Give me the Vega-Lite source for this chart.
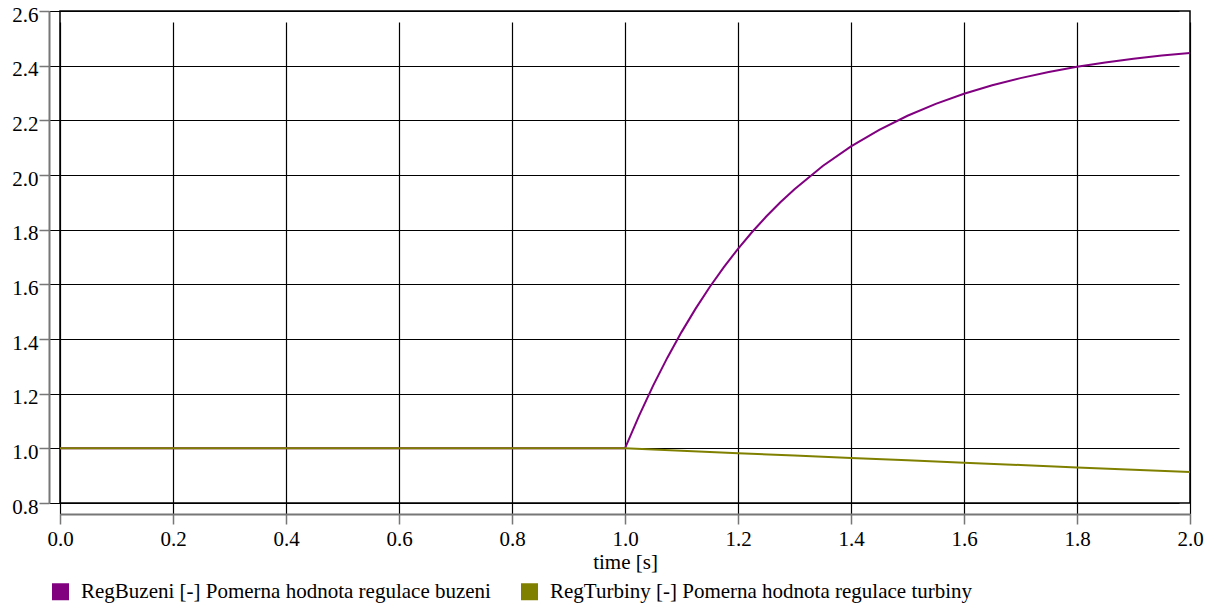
{
  "$schema": "https://vega.github.io/schema/vega-lite/v6.json",
  "width": 1130,
  "height": 492,
  "autosize": {"type": "none"},
  "padding": {"left": 60, "top": 11, "right": 27, "bottom": 105},
  "background": "white",
  "config": {
    "font": "Liberation Serif",
    "view": {"stroke": "#000", "strokeWidth": 1.5},
    "axis": {
      "labelFont": "Liberation Serif",
      "titleFont": "Liberation Serif",
      "labelFontSize": 21,
      "titleFontSize": 21,
      "titleFontWeight": "normal",
      "labelColor": "#000",
      "titleColor": "#000",
      "gridColor": "#000",
      "gridOpacity": 1,
      "gridWidth": 1.2,
      "domainColor": "#777",
      "domainWidth": 2,
      "tickColor": "#777",
      "tickWidth": 1.5,
      "tickSize": 10,
      "offset": 11,
      "labelFlush": false
    },
    "legend": {
      "labelFont": "Liberation Serif",
      "labelFontSize": 21,
      "labelColor": "#000"
    }
  },
  "data": {
    "values": [
      {"t": 0.0, "v": 1.0, "s": "RegBuzeni [-] Pomerna hodnota regulace buzeni"},
      {"t": 0.5, "v": 1.0, "s": "RegBuzeni [-] Pomerna hodnota regulace buzeni"},
      {"t": 1.0, "v": 1.0, "s": "RegBuzeni [-] Pomerna hodnota regulace buzeni"},
      {"t": 1.025, "v": 1.1199, "s": "RegBuzeni [-] Pomerna hodnota regulace buzeni"},
      {"t": 1.05, "v": 1.2303, "s": "RegBuzeni [-] Pomerna hodnota regulace buzeni"},
      {"t": 1.075, "v": 1.3318, "s": "RegBuzeni [-] Pomerna hodnota regulace buzeni"},
      {"t": 1.1, "v": 1.4252, "s": "RegBuzeni [-] Pomerna hodnota regulace buzeni"},
      {"t": 1.125, "v": 1.5111, "s": "RegBuzeni [-] Pomerna hodnota regulace buzeni"},
      {"t": 1.15, "v": 1.5902, "s": "RegBuzeni [-] Pomerna hodnota regulace buzeni"},
      {"t": 1.175, "v": 1.6629, "s": "RegBuzeni [-] Pomerna hodnota regulace buzeni"},
      {"t": 1.2, "v": 1.7299, "s": "RegBuzeni [-] Pomerna hodnota regulace buzeni"},
      {"t": 1.225, "v": 1.7914, "s": "RegBuzeni [-] Pomerna hodnota regulace buzeni"},
      {"t": 1.25, "v": 1.8481, "s": "RegBuzeni [-] Pomerna hodnota regulace buzeni"},
      {"t": 1.275, "v": 1.9002, "s": "RegBuzeni [-] Pomerna hodnota regulace buzeni"},
      {"t": 1.3, "v": 1.9482, "s": "RegBuzeni [-] Pomerna hodnota regulace buzeni"},
      {"t": 1.35, "v": 2.0329, "s": "RegBuzeni [-] Pomerna hodnota regulace buzeni"},
      {"t": 1.4, "v": 2.1046, "s": "RegBuzeni [-] Pomerna hodnota regulace buzeni"},
      {"t": 1.45, "v": 2.1653, "s": "RegBuzeni [-] Pomerna hodnota regulace buzeni"},
      {"t": 1.5, "v": 2.2167, "s": "RegBuzeni [-] Pomerna hodnota regulace buzeni"},
      {"t": 1.55, "v": 2.2602, "s": "RegBuzeni [-] Pomerna hodnota regulace buzeni"},
      {"t": 1.6, "v": 2.2970, "s": "RegBuzeni [-] Pomerna hodnota regulace buzeni"},
      {"t": 1.65, "v": 2.3282, "s": "RegBuzeni [-] Pomerna hodnota regulace buzeni"},
      {"t": 1.7, "v": 2.3545, "s": "RegBuzeni [-] Pomerna hodnota regulace buzeni"},
      {"t": 1.75, "v": 2.3769, "s": "RegBuzeni [-] Pomerna hodnota regulace buzeni"},
      {"t": 1.8, "v": 2.3958, "s": "RegBuzeni [-] Pomerna hodnota regulace buzeni"},
      {"t": 1.85, "v": 2.4118, "s": "RegBuzeni [-] Pomerna hodnota regulace buzeni"},
      {"t": 1.9, "v": 2.4253, "s": "RegBuzeni [-] Pomerna hodnota regulace buzeni"},
      {"t": 1.95, "v": 2.4368, "s": "RegBuzeni [-] Pomerna hodnota regulace buzeni"},
      {"t": 2.0, "v": 2.4465, "s": "RegBuzeni [-] Pomerna hodnota regulace buzeni"},
      {"t": 0.0, "v": 1.0, "s": "RegTurbiny [-] Pomerna hodnota regulace turbiny"},
      {"t": 0.5, "v": 1.0, "s": "RegTurbiny [-] Pomerna hodnota regulace turbiny"},
      {"t": 1.0, "v": 1.0, "s": "RegTurbiny [-] Pomerna hodnota regulace turbiny"},
      {"t": 1.1, "v": 0.991, "s": "RegTurbiny [-] Pomerna hodnota regulace turbiny"},
      {"t": 1.2, "v": 0.982, "s": "RegTurbiny [-] Pomerna hodnota regulace turbiny"},
      {"t": 1.3, "v": 0.974, "s": "RegTurbiny [-] Pomerna hodnota regulace turbiny"},
      {"t": 1.4, "v": 0.965, "s": "RegTurbiny [-] Pomerna hodnota regulace turbiny"},
      {"t": 1.5, "v": 0.956, "s": "RegTurbiny [-] Pomerna hodnota regulace turbiny"},
      {"t": 1.6, "v": 0.947, "s": "RegTurbiny [-] Pomerna hodnota regulace turbiny"},
      {"t": 1.7, "v": 0.939, "s": "RegTurbiny [-] Pomerna hodnota regulace turbiny"},
      {"t": 1.8, "v": 0.930, "s": "RegTurbiny [-] Pomerna hodnota regulace turbiny"},
      {"t": 1.9, "v": 0.922, "s": "RegTurbiny [-] Pomerna hodnota regulace turbiny"},
      {"t": 2.0, "v": 0.913, "s": "RegTurbiny [-] Pomerna hodnota regulace turbiny"}
    ]
  },
  "mark": {"type": "line", "strokeWidth": 2, "clip": true},
  "encoding": {
    "x": {
      "field": "t",
      "type": "quantitative",
      "scale": {"domain": [0, 2], "nice": false, "zero": false},
      "axis": {
        "title": "time [s]",
        "values": [0, 0.2, 0.4, 0.6, 0.8, 1.0, 1.2, 1.4, 1.6, 1.8, 2.0],
        "format": ".1f",
        "labelFlush": false,
        "labelPadding": 4,
        "titlePadding": 2
      }
    },
    "y": {
      "field": "v",
      "type": "quantitative",
      "scale": {"domain": [0.8, 2.6], "nice": false, "zero": false},
      "axis": {
        "title": null,
        "values": [0.8, 1.0, 1.2, 1.4, 1.6, 1.8, 2.0, 2.2, 2.4, 2.6],
        "format": ".1f",
        "labelFlush": false,
        "labelPadding": 1,
        "labelBaseline": "middle",
        "labelOffset": 4
      }
    },
    "color": {
      "field": "s",
      "type": "nominal",
      "scale": {
        "domain": ["RegBuzeni [-] Pomerna hodnota regulace buzeni", "RegTurbiny [-] Pomerna hodnota regulace turbiny"],
        "range": ["#800080", "#808000"]
      },
      "legend": {
        "title": null,
        "orient": "none",
        "direction": "horizontal",
        "legendX": -10,
        "legendY": 570,
        "symbolType": "square",
        "symbolSize": 289,
        "symbolStrokeWidth": 0,
        "symbolOpacity": 1,
        "labelLimit": 0,
        "labelOffset": 10,
        "columnPadding": 28,
        "padding": 0,
        "encode": {
          "symbols": {
            "update": {
              "fill": {"scale": "color", "field": "value"},
              "fillOpacity": {"value": 1}
            }
          }
        }
      }
    }
  }
}
